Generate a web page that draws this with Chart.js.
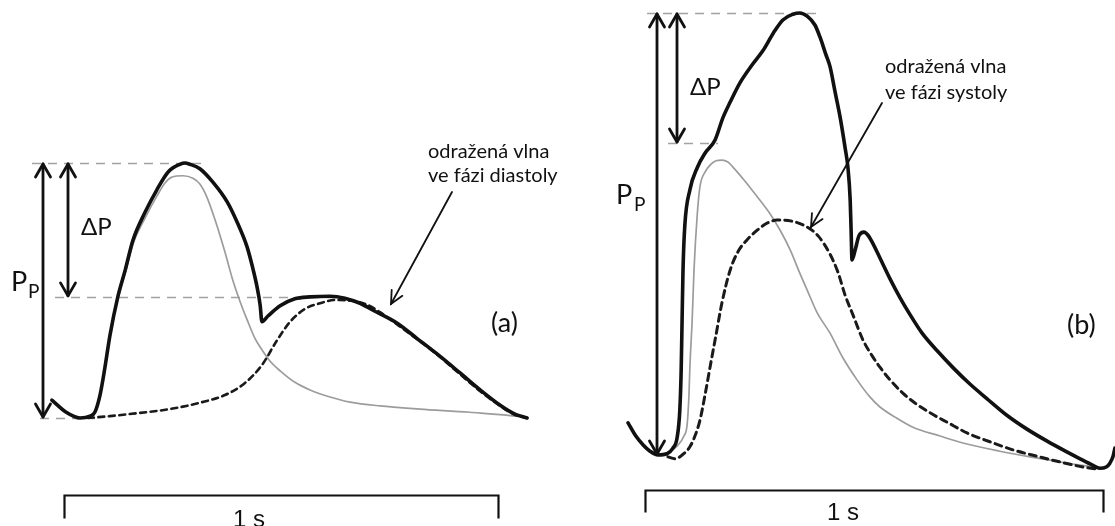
<!DOCTYPE html>
<html>
<head>
<meta charset="utf-8">
<script src="https://cdn.jsdelivr.net/npm/chart.js@4.4.1/dist/chart.umd.min.js"></script>
<style>
  html, body { margin: 0; padding: 0; background: #fff; }
  #wrap { position: relative; width: 1115px; height: 526px; overflow: hidden; background: #fff; }
  #wrap canvas { position: absolute; top: 0; }
</style>
</head>
<body>
<div id="wrap">
  <canvas id="panelA" width="560" height="526" style="left:0px"></canvas>
  <canvas id="panelB" width="555" height="526" style="left:560px"></canvas>
</div>
<script>
// ---- Panel (a): pulse wave with reflected wave arriving in diastole ----
// time in seconds, pressure in mmHg
const timeTotalA = [-0.028, 0.005, 0.037, 0.060, 0.071, 0.083, 0.094, 0.106, 0.124, 0.141, 0.159, 0.187, 0.214, 0.240, 0.267, 0.279, 0.290, 0.313, 0.343, 0.376, 0.399, 0.422, 0.435, 0.445, 0.452, 0.456, 0.470, 0.498, 0.532, 0.567, 0.613, 0.647, 0.682, 0.712, 0.767, 0.813, 0.866, 0.912, 0.959, 1.005, 1.039, 1.067];
const pressTotalA = [82.8, 80.9, 80.0, 80.3, 80.9, 83.6, 87.8, 93.0, 99.0, 103.2, 107.9, 112.3, 115.8, 118.6, 119.8, 120.0, 119.8, 119.1, 117.0, 113.9, 110.7, 106.8, 103.5, 100.5, 97.7, 95.1, 96.0, 97.6, 98.7, 99.0, 99.1, 98.8, 98.0, 96.9, 94.9, 92.5, 89.7, 87.1, 84.4, 82.0, 80.6, 80.0];

const timeIncidentA = [0.060, 0.071, 0.083, 0.094, 0.106, 0.124, 0.141, 0.159, 0.187, 0.214, 0.233, 0.249, 0.274, 0.297, 0.313, 0.329, 0.348, 0.371, 0.389, 0.406, 0.422, 0.440, 0.456, 0.475, 0.498, 0.532, 0.567, 0.613, 0.659, 0.728, 0.820, 0.935, 1.051, 1.067];
const pressIncidentA = [80.3, 80.9, 83.6, 87.7, 92.7, 98.7, 102.7, 107.3, 111.4, 114.8, 116.9, 117.8, 118.0, 117.6, 116.7, 114.7, 111.1, 106.0, 101.6, 98.2, 95.4, 92.5, 90.7, 88.9, 87.4, 85.6, 84.4, 83.3, 82.5, 81.9, 81.4, 80.9, 80.2, 80.0];

const timeReflectedA = [0.055, 0.106, 0.175, 0.244, 0.313, 0.371, 0.417, 0.456, 0.491, 0.521, 0.555, 0.590, 0.624, 0.659, 0.694, 0.728, 0.767, 0.813, 0.866, 0.912, 0.959, 1.005, 1.039, 1.067];
const pressReflectedA = [80.0, 80.3, 80.8, 81.4, 82.4, 83.6, 85.5, 88.3, 92.2, 95.1, 97.1, 98.0, 98.5, 98.4, 97.9, 96.6, 94.7, 92.4, 89.6, 86.9, 84.2, 81.9, 80.5, 80.0];

// diastolic, inflection, systolic pressure
const levelsA = [80, 99, 120];

// ---- Panel (b): reflected wave arriving in systole ----
const timeTotalB = [-0.037, -0.020, -0.004, 0.011, 0.028, 0.048, 0.061, 0.070, 0.076, 0.079, 0.081, 0.083, 0.087, 0.098, 0.114, 0.131, 0.153, 0.170, 0.186, 0.207, 0.234, 0.258, 0.280, 0.301, 0.323, 0.338, 0.354, 0.371, 0.382, 0.395, 0.404, 0.415, 0.426, 0.437, 0.443, 0.448, 0.450, 0.452, 0.459, 0.467, 0.478, 0.487, 0.496, 0.513, 0.535, 0.557, 0.579, 0.605, 0.638, 0.673, 0.710, 0.747, 0.790, 0.834, 0.878, 0.921, 0.950, 0.972, 0.993, 1.007, 1.015, 1.022, 1.026];
const pressTotalB = [85.1, 83.0, 81.6, 80.6, 80.0, 80.2, 81.1, 82.7, 87.1, 93.5, 101.4, 109.3, 116.4, 122.0, 125.5, 127.8, 129.9, 133.4, 135.9, 138.9, 141.8, 144.1, 146.8, 148.9, 149.8, 150.0, 149.5, 148.1, 146.2, 143.4, 141.5, 137.5, 133.5, 128.6, 125.6, 120.4, 115.6, 110.9, 112.5, 114.7, 115.3, 114.8, 113.7, 111.2, 107.9, 104.9, 102.2, 99.3, 96.5, 93.8, 91.2, 88.9, 86.3, 84.1, 82.2, 80.5, 79.4, 78.6, 77.9, 78.1, 78.7, 79.8, 81.1];

const timeIncidentB = [0.033, 0.048, 0.070, 0.085, 0.092, 0.096, 0.098, 0.103, 0.107, 0.114, 0.120, 0.131, 0.142, 0.155, 0.168, 0.181, 0.192, 0.218, 0.245, 0.273, 0.295, 0.317, 0.338, 0.356, 0.376, 0.404, 0.432, 0.463, 0.491, 0.513, 0.546, 0.585, 0.644, 0.694, 0.775, 0.841, 0.906, 0.950, 0.983];
const pressIncidentB = [80.0, 80.3, 81.4, 83.0, 84.8, 89.5, 93.9, 101.4, 109.3, 118.0, 122.5, 124.8, 125.9, 126.6, 126.7, 126.4, 125.6, 123.4, 120.9, 118.2, 115.6, 112.5, 108.8, 105.8, 102.5, 99.3, 95.4, 91.9, 89.2, 87.6, 86.0, 84.4, 83.0, 81.9, 80.6, 79.7, 78.9, 78.4, 78.1];

const timeReflectedB = [0.050, 0.066, 0.081, 0.098, 0.109, 0.120, 0.131, 0.142, 0.155, 0.168, 0.186, 0.203, 0.223, 0.245, 0.266, 0.288, 0.301, 0.328, 0.354, 0.378, 0.404, 0.421, 0.437, 0.454, 0.476, 0.496, 0.513, 0.535, 0.563, 0.590, 0.622, 0.662, 0.703, 0.753, 0.804, 0.856, 0.906, 0.956, 0.983];
const pressReflectedB = [79.7, 79.4, 80.0, 81.3, 83.0, 85.5, 89.5, 93.9, 99.0, 104.1, 109.3, 112.2, 114.1, 115.6, 116.7, 117.2, 117.2, 116.9, 116.1, 114.7, 111.8, 109.0, 105.3, 102.2, 98.2, 95.7, 93.9, 91.9, 89.8, 88.2, 86.7, 85.1, 83.5, 82.1, 80.8, 79.8, 78.9, 78.1, 77.8];

// diastolic, inflection, systolic pressure
const levelsB = [80, 129.4, 150];

// ---- text ----
const noteA = ['odražená vlna', 've fázi diastoly'];
const noteB = ['odražená vlna', 've fázi systoly'];
const tagA = '(a)';
const tagB = '(b)';
const deltaLabel = 'ΔP';
const pulseLabel = ['P', 'P'];
const scaleLabel = '1 s';

// ---- drawing helpers ----
const INK = '#111111';
const GRID_GREY = '#a2a2a2';

function pts(ts, ps) { return ts.map((t, i) => ({ x: t, y: ps[i] })); }

// value range of an axis whose reference values v0/v1 land on pixels p0/p1 of a span [0, size]
function spanRange(size, p0, p1, v0, v1) {
  const k = (v1 - v0) / (p1 - p0);
  return [v0 - p0 * k, v0 + (size - p0) * k];
}

function vHead(ctx, x, y, dir, len, half) {
  // open "V" head; dir = -1 points up, +1 points down
  ctx.beginPath();
  ctx.moveTo(x - half, y - dir * len);
  ctx.lineTo(x, y);
  ctx.lineTo(x + half, y - dir * len);
  ctx.stroke();
}

function doubleArrow(ctx, x, yTop, yBot) {
  ctx.save();
  ctx.strokeStyle = INK;
  ctx.lineWidth = 2.8;
  ctx.lineCap = 'round';
  ctx.lineJoin = 'round';
  ctx.beginPath();
  ctx.moveTo(x, yTop + 1);
  ctx.lineTo(x, yBot - 1);
  ctx.stroke();
  vHead(ctx, x, yTop + 1, -1, 13, 7.5);
  vHead(ctx, x, yBot - 1, 1, 13, 7.5);
  ctx.restore();
}

function callout(ctx, x0, y0, x1, y1) {
  ctx.save();
  ctx.strokeStyle = INK;
  ctx.lineWidth = 1.8;
  ctx.lineCap = 'round';
  ctx.beginPath();
  ctx.moveTo(x0, y0);
  ctx.lineTo(x1, y1);
  ctx.stroke();
  const a = Math.atan2(y1 - y0, x1 - x0);
  const L = 14, w = 0.45;
  ctx.beginPath();
  ctx.moveTo(x1 - L * Math.cos(a - w), y1 - L * Math.sin(a - w));
  ctx.lineTo(x1, y1);
  ctx.lineTo(x1 - L * Math.cos(a + w), y1 - L * Math.sin(a + w));
  ctx.stroke();
  ctx.restore();
}

function overlay(o) {
  return {
    id: 'overlay',
    beforeDatasetsDraw(chart) {
      const ctx = chart.ctx, ys = chart.scales.y;
      ctx.save();
      ctx.strokeStyle = GRID_GREY;
      ctx.lineWidth = 1.5;
      ctx.setLineDash([9, 7]);
      o.guides.forEach(g => {
        const py = Math.round(ys.getPixelForValue(o.levels[g.i])) + 0.5;
        ctx.beginPath();
        ctx.moveTo(g.x0, py);
        ctx.lineTo(g.x1, py);
        ctx.stroke();
      });
      ctx.restore();
    },
    afterDatasetsDraw(chart) {
      const ctx = chart.ctx, xs = chart.scales.x, ys = chart.scales.y;
      const yDia = ys.getPixelForValue(o.levels[0]);
      const yInf = ys.getPixelForValue(o.levels[1]);
      const ySys = ys.getPixelForValue(o.levels[2]);

      doubleArrow(ctx, o.ppX, ySys, yDia);
      doubleArrow(ctx, o.dpX, ySys, yInf);

      ctx.save();
      ctx.fillStyle = INK;
      ctx.textAlign = 'left';
      ctx.textBaseline = 'alphabetic';
      ctx.font = '24px Lato';
      ctx.fillText(deltaLabel, o.dp.x, o.dp.y);
      ctx.font = '27px Lato';
      ctx.fillText(pulseLabel[0], o.pp.x, o.pp.y);
      ctx.font = '19px Lato';
      ctx.fillText(pulseLabel[1], o.pp.sx, o.pp.sy);

      ctx.font = '20px Lato';
      o.note.lines.forEach((s, i) => ctx.fillText(s, o.note.x, o.note.y[i]));

      ctx.font = '27px Lato';
      ctx.fillText(o.tag.text, o.tag.x, o.tag.y);
      ctx.restore();

      callout(ctx, o.arrow[0], o.arrow[1], o.arrow[2], o.arrow[3]);

      // one-second scale bar spans t = 0 .. 1 s
      const bx0 = Math.round(xs.getPixelForValue(0)) + 0.5;
      const bx1 = Math.round(xs.getPixelForValue(1)) + 0.5;
      const by = o.bar.y + 0.5;
      ctx.save();
      ctx.strokeStyle = INK;
      ctx.lineWidth = 2.2;
      ctx.lineJoin = 'miter';
      ctx.beginPath();
      ctx.moveTo(bx0, by + o.bar.drop);
      ctx.lineTo(bx0, by);
      ctx.lineTo(bx1, by);
      ctx.lineTo(bx1, by + o.bar.drop);
      ctx.stroke();
      ctx.fillStyle = INK;
      ctx.font = '24px "Liberation Sans"';
      ctx.textAlign = 'left';
      ctx.fillText(scaleLabel, o.bar.tx, o.bar.ty);
      ctx.restore();
    }
  };
}

function makePanel(canvasId, series, xr, yr, dash, o) {
  const line = (data, color, width, borderDash) => ({
    data, borderColor: color, borderWidth: width, borderDash: borderDash || [],
    pointRadius: 0, fill: false, clip: false,
    tension: 0.4, cubicInterpolationMode: 'monotone',
    borderCapStyle: 'round', borderJoinStyle: 'round'
  });
  return new Chart(document.getElementById(canvasId), {
    type: 'line',
    data: {
      datasets: [
        line(series.total, INK, 3.6),
        line(series.reflected, '#1a1a1a', dash.w, dash.pattern),
        line(series.incident, '#9c9c9c', 1.7)
      ]
    },
    options: {
      responsive: false,
      animation: false,
      events: [],
      layout: { autoPadding: false, padding: 0 },
      elements: { line: { capBezierPoints: false } },
      plugins: { legend: { display: false }, tooltip: { enabled: false }, title: { display: false } },
      scales: {
        x: { type: 'linear', min: xr[0], max: xr[1], display: false },
        y: { type: 'linear', min: yr[0], max: yr[1], display: false }
      }
    },
    plugins: [overlay(o)]
  });
}

// panel (a): 0..1 s spans x 64..498 px, 80..120 mmHg spans y 418..163 px
const xRangeA = spanRange(560, 64, 498, 0, 1);
const yPix = spanRange(526, 418, 163, levelsA[0], levelsA[2]);
makePanel('panelA', {
    total: pts(timeTotalA, pressTotalA),
    incident: pts(timeIncidentA, pressIncidentA),
    reflected: pts(timeReflectedA, pressReflectedA)
  },
  xRangeA,
  [Math.min(yPix[0], yPix[1]), Math.max(yPix[0], yPix[1])],
  { w: 2.6, pattern: [6, 4.5] },
  {
    levels: levelsA,
    guides: [{ i: 2, x0: 32, x1: 207 }, { i: 1, x0: 55, x1: 345 }, { i: 0, x0: 40, x1: 95 }],
    ppX: 43, dpX: 68,
    dp: { x: 81, y: 235 },
    pp: { x: 11, y: 291, sx: 28, sy: 298 },
    note: { lines: noteA, x: 428, y: [158, 182] },
    arrow: [452, 192, 391, 304],
    tag: { text: tagA, x: 491, y: 332 },
    bar: { y: 495, drop: 23, tx: 233, ty: 527 }
  });

// panel (b): 0..1 s spans x 85..543 px, 80..150 mmHg spans y 455..13 px
const xRangeB = spanRange(555, 85, 543, 0, 1);
const yPixB = spanRange(526, 455, 13, levelsB[0], levelsB[2]);
makePanel('panelB', {
    total: pts(timeTotalB, pressTotalB),
    incident: pts(timeIncidentB, pressIncidentB),
    reflected: pts(timeReflectedB, pressReflectedB)
  },
  xRangeB,
  [Math.min(yPixB[0], yPixB[1]), Math.max(yPixB[0], yPixB[1])],
  { w: 3.0, pattern: [7, 5] },
  {
    levels: levelsB,
    guides: [{ i: 2, x0: 87, x1: 260 }, { i: 1, x0: 108, x1: 158 }],
    ppX: 97, dpX: 117,
    dp: { x: 130, y: 95 },
    pp: { x: 56, y: 204, sx: 74, sy: 211 },
    note: { lines: noteB, x: 325, y: [73, 99] },
    arrow: [322, 103, 251, 227],
    tag: { text: tagB, x: 507, y: 334 },
    bar: { y: 490, drop: 22, tx: 267, ty: 520 }
  });
</script>
</body>
</html>
